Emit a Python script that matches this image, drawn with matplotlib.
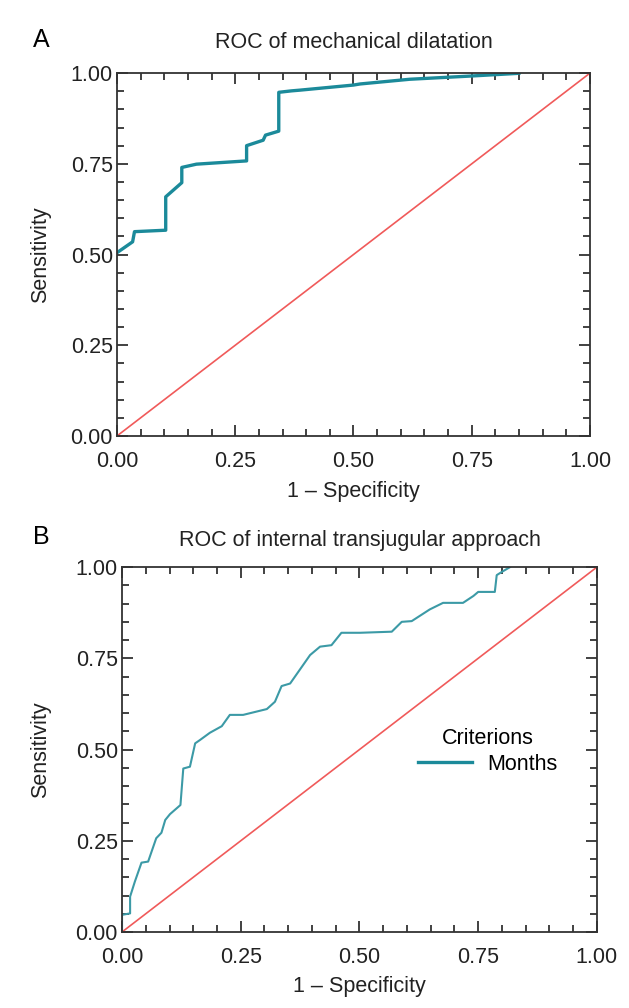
import matplotlib
matplotlib.use("Agg")
import matplotlib.pyplot as plt
from matplotlib.ticker import MultipleLocator

plt.rcParams['font.family'] = ['Liberation Sans', 'DejaVu Sans']

# Panel A: ROC of mechanical dilatation
a_fpr = [0.0, 0.033, 0.037, 0.103, 0.103, 0.137, 0.137, 0.168, 0.274, 0.274,
         0.309, 0.314, 0.342, 0.342, 0.369, 0.387, 0.5, 0.514, 0.619, 0.75, 0.845, 0.85]
a_tpr = [0.505, 0.535, 0.563, 0.567, 0.659, 0.698, 0.740, 0.749, 0.758, 0.80,
         0.815, 0.829, 0.840, 0.947, 0.951, 0.953, 0.967, 0.970, 0.983, 0.992, 0.999, 1.0]

# Panel B: ROC of internal transjugular approach
b_fpr = [0.0, 0.0, 0.017, 0.017, 0.027, 0.041, 0.055, 0.072, 0.083, 0.091, 0.101,
         0.123, 0.129, 0.143, 0.154, 0.164, 0.185, 0.21, 0.227, 0.255, 0.305, 0.322,
         0.336, 0.354, 0.396, 0.417, 0.441, 0.462, 0.501, 0.568, 0.589, 0.61, 0.648,
         0.676, 0.718, 0.74, 0.75, 0.785, 0.789, 0.8, 0.817]
b_tpr = [0.005, 0.047, 0.051, 0.097, 0.138, 0.19, 0.193, 0.257, 0.272, 0.307, 0.323,
         0.348, 0.448, 0.453, 0.517, 0.526, 0.546, 0.564, 0.595, 0.595, 0.611, 0.631,
         0.674, 0.681, 0.759, 0.782, 0.786, 0.82, 0.82, 0.823, 0.85, 0.852, 0.884,
         0.902, 0.902, 0.921, 0.932, 0.932, 0.978, 0.987, 1.0]

ref = [0, 1]
ticks = [0.0, 0.25, 0.5, 0.75, 1.0]
tick_labels = ["0.00", "0.25", "0.50", "0.75", "1.00"]

teal = "#1b8a9a"
red = "#f05a5a"
dark = "#333333"
fs = 15.5

fig = plt.figure(figsize=(6.29, 10.08), dpi=100)
ax_a = fig.add_axes([0.186, 0.5675, 0.752, 0.360])
ax_b = fig.add_axes([0.194, 0.0754, 0.755, 0.362])


def style(ax, xlab_y, ylab_x):
    ax.set_xlim(0, 1)
    ax.set_ylim(0, 1)
    ax.set_xticks(ticks)
    ax.set_yticks(ticks)
    ax.set_xticklabels(tick_labels)
    ax.set_yticklabels(tick_labels)
    ax.xaxis.set_minor_locator(MultipleLocator(0.05))
    ax.yaxis.set_minor_locator(MultipleLocator(0.05))
    ax.tick_params(which="both", direction="in", top=True, right=True,
                   color=dark, width=1.3, labelsize=fs, labelcolor="#222222")
    ax.tick_params(which="major", length=8)
    ax.tick_params(which="minor", length=5)
    ax.tick_params(axis="x", pad=11)
    ax.tick_params(axis="y", pad=3)
    for s in ax.spines.values():
        s.set_color(dark)
        s.set_linewidth(1.3)
    ax.set_xlabel("1 – Specificity", fontsize=fs, color="#222222")
    ax.set_ylabel("Sensitivity", fontsize=fs, color="#222222")
    ax.xaxis.set_label_coords(0.5, xlab_y)
    ax.yaxis.set_label_coords(ylab_x, 0.5)


ax_a.plot(ref, ref, color=red, lw=1.2, clip_on=False)
ax_a.plot(a_fpr, a_tpr, color=teal, lw=2.4)
style(ax_a, -0.125, -0.14)
ax_a.set_title("ROC of mechanical dilatation", fontsize=fs, pad=18, color="#222222")
fig.text(0.052, 0.96, "A", fontsize=18, va="center")

ax_b.plot(ref, ref, color=red, lw=1.2, clip_on=False)
ax_b.plot(b_fpr, b_tpr, color="#3c9aa6", lw=1.5, label="Months")
style(ax_b, -0.12, -0.15)
ax_b.set_title("ROC of internal transjugular approach", fontsize=fs, pad=15, color="#222222")
fig.text(0.052, 0.467, "B", fontsize=18, va="center")
leg = ax_b.legend(title="Criterions", frameon=False, fontsize=fs, title_fontsize=fs,
                  loc="center", bbox_to_anchor=(0.77, 0.495), handlelength=2.5,
                  handletextpad=0.7, labelspacing=0.2)
leg.get_lines()[0].set_color(teal)
leg.get_lines()[0].set_linewidth(2.4)

fig.savefig("out.png", dpi=100)
